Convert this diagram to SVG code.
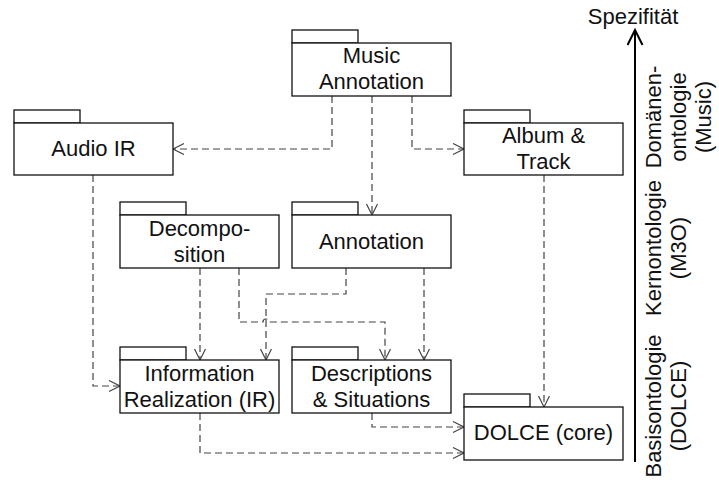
<svg xmlns="http://www.w3.org/2000/svg" width="719" height="482" viewBox="0 0 719 482">
<defs>
<style>
.box{fill:#fff;stroke:#111;stroke-width:1.3}
.t{font-family:"Liberation Sans",Arial,Helvetica,sans-serif;font-size:22px;fill:#111;text-anchor:middle}
.c{fill:none;stroke:#444;stroke-width:1.2;stroke-dasharray:7,4}
</style>
<marker id="ah" markerUnits="userSpaceOnUse" markerWidth="14" markerHeight="14" refX="12" refY="6" orient="auto">
<path d="M1,0.5 L12,6 L1,11.5" fill="none" stroke="#444" stroke-width="1.2"/>
</marker>
<marker id="axh" markerUnits="userSpaceOnUse" markerWidth="20" markerHeight="20" refX="16" refY="8" orient="auto">
<path d="M1,0.5 L16,8 L1,15.5" fill="none" stroke="#000" stroke-width="2"/>
</marker>
</defs>

<g id="connectors">
<path class="c" d="M332,96 V149 H173" marker-end="url(#ah)"/>
<path class="c" d="M372,96 V215" marker-end="url(#ah)"/>
<path class="c" d="M412,96 V149 H464" marker-end="url(#ah)"/>
<path class="c" d="M93,175 V386 H120" marker-end="url(#ah)"/>
<path class="c" d="M544,175 V407" marker-end="url(#ah)"/>
<path class="c" d="M200,268 V360" marker-end="url(#ah)"/>
<path class="c" d="M239,268 V322 H263 A3,3 0 0 1 269,322 H385 V360" marker-end="url(#ah)"/>
<path class="c" d="M346,268 V294 H266 V360" marker-end="url(#ah)"/>
<path class="c" d="M424,268 V360" marker-end="url(#ah)"/>
<path class="c" d="M372,413 V427 H464" marker-end="url(#ah)"/>
<path class="c" d="M200,413 V453 H464" marker-end="url(#ah)"/>
</g>

<g id="music-annotation">
<rect class="box" x="292" y="30" width="66" height="13"/>
<rect class="box" x="292" y="43" width="159" height="53"/>
<text class="t" x="371.5" y="63">Music</text>
<text class="t" x="371.5" y="89">Annotation</text>
</g>

<g id="audio-ir">
<rect class="box" x="14" y="110" width="66" height="13"/>
<rect class="box" x="14" y="123" width="159" height="52"/>
<text class="t" x="93.5" y="156">Audio IR</text>
</g>

<g id="album-track">
<rect class="box" x="464" y="110" width="66" height="13"/>
<rect class="box" x="464" y="123" width="159" height="52"/>
<text class="t" x="543.5" y="143">Album &amp;</text>
<text class="t" x="543.5" y="169">Track</text>
</g>

<g id="decomposition">
<rect class="box" x="120" y="202" width="66" height="13"/>
<rect class="box" x="120" y="215" width="159" height="53"/>
<text class="t" x="199.5" y="235.5">Decompo-</text>
<text class="t" x="199.5" y="261.5">sition</text>
</g>

<g id="annotation">
<rect class="box" x="292" y="202" width="66" height="13"/>
<rect class="box" x="292" y="215" width="159" height="53"/>
<text class="t" x="371.5" y="249">Annotation</text>
</g>

<g id="information-realization">
<rect class="box" x="120" y="347" width="66" height="13"/>
<rect class="box" x="120" y="360" width="159" height="53"/>
<text class="t" x="199.5" y="380.5">Information</text>
<text class="t" x="199.5" y="406.5">Realization (IR)</text>
</g>

<g id="descriptions-situations">
<rect class="box" x="292" y="347" width="66" height="13"/>
<rect class="box" x="292" y="360" width="159" height="53"/>
<text class="t" x="371.5" y="380.5">Descriptions</text>
<text class="t" x="371.5" y="406.5">&amp; Situations</text>
</g>

<g id="dolce-core">
<rect class="box" x="464" y="394" width="66" height="13"/>
<rect class="box" x="464" y="407" width="159" height="53"/>
<text class="t" x="543.5" y="440">DOLCE (core)</text>
</g>

<g id="axis">
<line x1="635" y1="462" x2="635" y2="30" stroke="#000" stroke-width="2" marker-end="url(#axh)"/>
<text class="t" x="633" y="24">Spezifität</text>
<g transform="translate(0,117) rotate(-90)">
<text class="t" x="0" y="661">Domänen-</text>
<text class="t" x="0" y="686">ontologie</text>
<text class="t" x="0" y="711">(Music)</text>
</g>
<g transform="translate(0,248) rotate(-90)">
<text class="t" x="0" y="661">Kernontologie</text>
<text class="t" x="0" y="686">(M3O)</text>
</g>
<g transform="translate(0,406) rotate(-90)">
<text class="t" x="0" y="661">Basisontologie</text>
<text class="t" x="0" y="686">(DOLCE)</text>
</g>
</g>
</svg>
